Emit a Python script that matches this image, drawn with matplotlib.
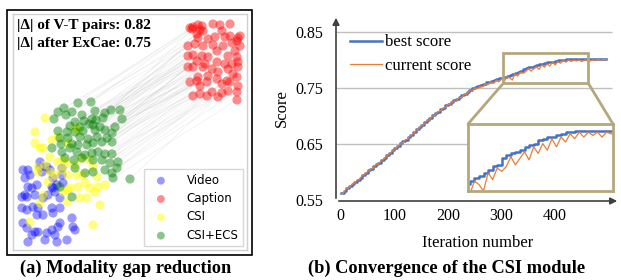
import matplotlib
matplotlib.use("Agg")
import matplotlib.pyplot as plt
from matplotlib.patches import Rectangle, ConnectionPatch

# ---- panel (a): embedding points ----
video = [(23, 170), (28, 170), (25, 178), (30, 175), (40, 162), (47, 167), (50, 170), (42, 172),
         (62, 168), (37, 185), (28, 187), (32, 188), (52, 187), (53, 188), (57, 185), (55, 192),
         (48, 195), (63, 183), (25, 195), (22, 197), (27, 197), (35, 195), (43, 198), (60, 198),
         (33, 207), (22, 208), (27, 210), (38, 208), (52, 208), (60, 208), (37, 215), (43, 215),
         (53, 213), (72, 218), (73, 227), (75, 230), (23, 223), (27, 228), (32, 235), (35, 232),
         (28, 242), (38, 232), (47, 233), (52, 230), (60, 223), (58, 227), (55, 235), (45, 240),
         (67, 240), (57, 242), (40, 167), (53, 178), (62, 175)]
caption = [(190, 28), (193, 27), (198, 25), (202, 26), (213, 24), (220, 25), (230, 24), (240, 36),
           (238, 38), (192, 29), (200, 30), (203, 31), (222, 31), (197, 34), (198, 38), (208, 39),
           (215, 37), (225, 37), (237, 41), (230, 36), (188, 46), (195, 44), (203, 46), (213, 45),
           (223, 46), (232, 43), (240, 46), (188, 56), (193, 55), (202, 56), (208, 57), (217, 51),
           (235, 51), (237, 57), (228, 56), (197, 61), (205, 64), (217, 62), (225, 64), (232, 64),
           (238, 62), (188, 67), (193, 67), (203, 67), (212, 69), (218, 72), (228, 69), (233, 74),
           (238, 67), (198, 77), (208, 76), (217, 79), (227, 81), (237, 77), (190, 82), (197, 81),
           (200, 86), (207, 82), (222, 84), (230, 82), (238, 86), (193, 96), (200, 94), (207, 96),
           (212, 92), (222, 93), (228, 91), (237, 92), (237, 100), (218, 97)]
csi = [(45, 118), (35, 132), (35, 143), (43, 148), (52, 140), (58, 137), (75, 128), (78, 130),
       (68, 143), (63, 160), (67, 163), (75, 165), (82, 158), (90, 160), (93, 167), (50, 157),
       (58, 162), (45, 165), (38, 172), (83, 175), (97, 177), (77, 175), (62, 170), (55, 175),
       (40, 148), (38, 167), (50, 172), (68, 175), (48, 182), (68, 190), (78, 187), (85, 183),
       (90, 188), (95, 192), (80, 198), (87, 198), (98, 187), (105, 185), (100, 205), (30, 222),
       (93, 225), (43, 195), (40, 203), (67, 202), (70, 188), (63, 192)]
csi_ecs = [(78, 103), (91, 102), (64, 108), (58, 112), (72, 112), (54, 119), (66, 115), (82, 115),
           (95, 111), (111, 110), (120, 110), (105, 113), (75, 122), (84, 121), (92, 119), (96, 120),
           (103, 118), (122, 119), (70, 126), (80, 127), (89, 124), (93, 125), (100, 127), (58, 131),
           (67, 132), (75, 132), (83, 131), (95, 130), (105, 130), (115, 127), (112, 133), (60, 138),
           (68, 138), (80, 137), (88, 139), (97, 137), (107, 138), (52, 148), (61, 144), (72, 144),
           (78, 145), (87, 145), (93, 143), (102, 142), (112, 142), (62, 152), (70, 148), (77, 152),
           (85, 155), (92, 153), (98, 152), (105, 154), (112, 154), (65, 158), (74, 160), (82, 158),
           (93, 160), (102, 160), (110, 163), (118, 162), (75, 168), (85, 173), (93, 172), (105, 170),
           (112, 173), (130, 179), (60, 187), (72, 197), (113, 178), (117, 168)]
gap_text = ["|\u0394| of V-T pairs: 0.82", "|\u0394| after ExCae: 0.75"]

# ---- panel (b): scores every 5 iterations ----
iterations = list(range(0, 500, 5))
best_score = [0.562, 0.566, 0.571, 0.575, 0.578, 0.583, 0.586, 0.590, 0.595, 0.599,
              0.603, 0.606, 0.610, 0.614, 0.617, 0.622, 0.626, 0.630, 0.634, 0.639,
              0.643, 0.647, 0.651, 0.655, 0.658, 0.662, 0.667, 0.671, 0.676, 0.680,
              0.684, 0.689, 0.692, 0.697, 0.701, 0.705, 0.708, 0.712, 0.715, 0.719,
              0.722, 0.725, 0.728, 0.731, 0.734, 0.737, 0.740, 0.743, 0.746, 0.750,
              0.752, 0.754, 0.755, 0.757, 0.760, 0.761, 0.763, 0.764, 0.766, 0.767,
              0.768, 0.770, 0.772, 0.773, 0.775, 0.777, 0.779, 0.780, 0.784, 0.786,
              0.787, 0.788, 0.789, 0.791, 0.792, 0.793, 0.795, 0.796, 0.797, 0.797,
              0.798, 0.799, 0.800, 0.800, 0.801, 0.801, 0.801, 0.801, 0.801, 0.801,
              0.801, 0.801, 0.801, 0.801, 0.801, 0.801, 0.801, 0.801, 0.801, 0.801]
current_score = [0.561, 0.563, 0.570, 0.572, 0.577, 0.580, 0.585, 0.587, 0.594, 0.596,
                 0.601, 0.604, 0.607, 0.613, 0.614, 0.620, 0.623, 0.628, 0.632, 0.636,
                 0.641, 0.644, 0.649, 0.652, 0.657, 0.659, 0.665, 0.668, 0.674, 0.677,
                 0.682, 0.685, 0.691, 0.693, 0.699, 0.701, 0.706, 0.709, 0.713, 0.715,
                 0.720, 0.721, 0.726, 0.727, 0.732, 0.733, 0.738, 0.739, 0.744, 0.745,
                 0.750, 0.749, 0.753, 0.752, 0.758, 0.756, 0.761, 0.758, 0.764, 0.761,
                 0.766, 0.762, 0.770, 0.768, 0.764, 0.775, 0.771, 0.778, 0.776, 0.779,
                 0.785, 0.780, 0.784, 0.788, 0.783, 0.791, 0.787, 0.793, 0.789, 0.796,
                 0.791, 0.797, 0.794, 0.799, 0.796, 0.800, 0.797, 0.800, 0.798, 0.800,
                 0.797, 0.800, 0.799, 0.798, 0.800, 0.799, 0.801, 0.799, 0.801, 0.800]
score_ticks = [0.55, 0.65, 0.75, 0.85]
iter_ticks = [0, 100, 200, 300, 400]

SERIF = "Liberation Serif"
W, H = 621, 280
fig = plt.figure(figsize=(W / 100, H / 100), dpi=100)


def px_axes(x0, y0, x1, y1):
    # axes from pixel box (top-left origin)
    return fig.add_axes([x0 / W, 1 - y1 / H, (x1 - x0) / W, (y1 - y0) / H])


# ---------------- panel (a) ----------------
axa = px_axes(13, 14, 247, 250)
axa.set_xlim(13, 247)
axa.set_ylim(250, 14)
axa.set_xticks([])
axa.set_yticks([])
for s in axa.spines.values():
    s.set_color("#d0d0d0")
    s.set_linewidth(1)

for (x0, y0), (x1, y1) in zip(csi_ecs, caption):
    axa.plot([x0, x1], [y0, y1], color="#999999", alpha=0.15, lw=0.5, zorder=1)

groups = [("Video", video, "blue", 0.4), ("Caption", caption, "red", 0.45),
          ("CSI", csi, "yellow", 0.5), ("CSI+ECS", csi_ecs, "green", 0.45)]
for name, pts, col, a in groups:
    xs = [p[0] for p in pts]
    ys = [p[1] for p in pts]
    axa.scatter(xs, ys, s=44, color=col, alpha=a, edgecolors="none", label=name, zorder=2)

axa.text(0.017, 0.953, gap_text[0], transform=axa.transAxes, va="center", ha="left",
         family=SERIF, fontweight="bold", fontsize=11)
axa.text(0.017, 0.873, gap_text[1], transform=axa.transAxes, va="center", ha="left",
         family=SERIF, fontweight="bold", fontsize=11)
axa.legend(loc="lower right", fontsize=8.5, borderaxespad=0.3, handletextpad=1.2,
           labelspacing=0.45, framealpha=1, edgecolor="#d8d8d8", fancybox=False,
           markerscale=0.85)

fig.add_artist(Rectangle((7 / W, 1 - 255 / H), 245 / W, 245 / H, transform=fig.transFigure,
                         fill=False, edgecolor="black", lw=1.2))
fig.text(126 / W, 1 - 268 / H, "(a) Modality gap reduction", ha="center", va="center",
         family=SERIF, fontweight="bold", fontsize=13.2)

# ---------------- panel (b) ----------------
axb = px_axes(336, 15, 620, 201)
axb.set_xlim(-9, 521)
axb.set_ylim(0.5485, 0.880)
for s in axb.spines.values():
    s.set_visible(False)
axb.hlines(score_ticks[1:], -9, 506, color="#c0c0c0", lw=1, zorder=1)
axb.plot(iterations, best_score, color="#4472c4", lw=1.8, drawstyle="steps-post", zorder=3,
         label="best score")
axb.plot(iterations, current_score, color="#ed7d31", lw=0.9, zorder=4, label="current score")
axb.set_xticks(iter_ticks)
axb.set_yticks(score_ticks)
axb.set_yticklabels([f"{v:.2f}" for v in score_ticks])
axb.tick_params(length=0, labelsize=11.5, pad=5)
axb.tick_params(axis="y", pad=9)
for lab in axb.get_xticklabels() + axb.get_yticklabels():
    lab.set_family(SERIF)
axb.set_xlabel("Iteration number", family=SERIF, fontsize=12, labelpad=8)
axb.set_ylabel("Score", family=SERIF, fontsize=12, labelpad=4)
axb.annotate("", xy=(0, 1), xytext=(0, 0), xycoords="axes fraction",
             arrowprops=dict(arrowstyle="-|>", color="#404040", lw=1.2, mutation_scale=10))
axb.annotate("", xy=(1, 0), xytext=(0, 0), xycoords="axes fraction",
             arrowprops=dict(arrowstyle="-|>", color="#404040", lw=1.2, mutation_scale=10))
axb.legend(loc="upper left", bbox_to_anchor=(0.02, 0.94), frameon=False, borderpad=0,
           handlelength=1.9, handletextpad=0.2, labelspacing=0.45,
           prop=dict(family=SERIF, size=12))

zoom_col = "#b5a77c"
x_lo, x_hi, y_lo, y_hi = 303, 462, 0.758, 0.812
axb.add_patch(Rectangle((x_lo, y_lo), x_hi - x_lo, y_hi - y_lo, fill=False,
                        edgecolor=zoom_col, lw=2, zorder=5))

axi = px_axes(468, 124, 613, 191)
axi.plot(iterations, best_score, color="#4472c4", lw=1.8, drawstyle="steps-post")
axi.plot(iterations, current_score, color="#ed7d31", lw=0.9)
axi.set_xlim(x_lo, x_hi)
axi.set_ylim(0.764, 0.805)
axi.set_xticks([])
axi.set_yticks([])
for s in axi.spines.values():
    s.set_color(zoom_col)
    s.set_linewidth(2)

for xa, xf in [(x_lo, 0), (x_hi, 1)]:
    con = ConnectionPatch(xyA=(xa, y_lo), coordsA=axb.transData, xyB=(xf, 1),
                          coordsB=axi.transAxes, color=zoom_col, lw=2)
    fig.add_artist(con)

fig.text(447 / W, 1 - 268 / H, "(b) Convergence of the CSI module", ha="center", va="center",
         family=SERIF, fontweight="bold", fontsize=13.2)

fig.savefig("out.png", dpi=100)
